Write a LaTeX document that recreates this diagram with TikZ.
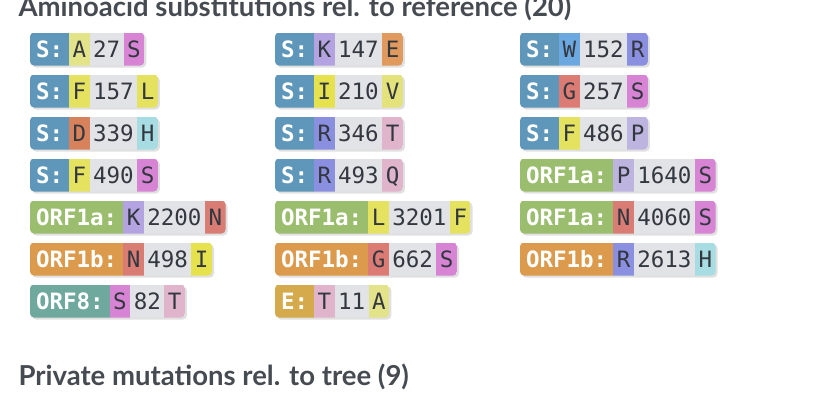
\documentclass[tikz,border=0pt]{standalone}
\usepackage{fontspec}
\setmainfont{Lato}
\setmonofont{DejaVu Sans Mono}
\usetikzlibrary{backgrounds}
\definecolor{gS}{HTML}{5E97B9}\definecolor{gORFa}{HTML}{9BBE6E}\definecolor{gORFb}{HTML}{DB9A4C}
\definecolor{gORFe}{HTML}{6FA89D}\definecolor{gE}{HTML}{D4AA4C}
\definecolor{aA}{HTML}{E3E38A}\definecolor{aS}{HTML}{D884D5}\definecolor{aF}{HTML}{E4E25E}
\definecolor{aL}{HTML}{E4E25E}\definecolor{aD}{HTML}{D8825B}\definecolor{aH}{HTML}{A6DCE2}
\definecolor{aK}{HTML}{B3A3E0}\definecolor{aE}{HTML}{E09A5E}\definecolor{aI}{HTML}{E6E24E}
\definecolor{aV}{HTML}{E4E27A}\definecolor{aR}{HTML}{8B8FE0}\definecolor{aT}{HTML}{E0B5CB}
\definecolor{aQ}{HTML}{E0B5CB}\definecolor{aW}{HTML}{6CA8E0}\definecolor{aG}{HTML}{DB7B73}
\definecolor{aP}{HTML}{BDB5E0}\definecolor{aN}{HTML}{D87C74}\definecolor{numbg}{HTML}{E1E3E6}
\definecolor{txt}{HTML}{464B52}\definecolor{dark}{HTML}{333840}
\tikzset{cell/.style={anchor=west,inner ysep=0pt,minimum height=33pt,text depth=0pt,
  font=\ttfamily\fontsize{22.5}{22.5}\selectfont,text=dark,outer sep=0pt},
  gene/.style={cell,inner xsep=6pt,text=white,font=\ttfamily\bfseries\fontsize{22.5}{22.5}\selectfont},
  aa/.style={cell,inner xsep=3.5pt},
  head/.style={anchor=base west,font=\bfseries\fontsize{27.5}{27.5}\selectfont,text=txt}}
% #1 name #2 x #3 y #4 gene color #5 gene #6 ref #7 pos #8 alt
\newcommand\badge[8]{%
  \node[gene] (#1g) at (#2,#3) {#5};
  \node[aa] (#1r) at (#1g.east) {#6};
  \node[aa] (#1n) at (#1r.east) {#7};
  \node[aa] (#1a) at (#1n.east) {#8};
  \begin{scope}[on background layer]
    \fill[black!12,rounded corners=4pt] ([xshift=2pt,yshift=-2pt]#1g.north west) rectangle ([xshift=2pt,yshift=-2pt]#1a.south east);
    \begin{scope}
      \clip[rounded corners=4pt] (#1g.north west) rectangle (#1a.south east);
      \fill[#4] (#1g.north west) rectangle (#1g.south east);
      \fill[a#6] (#1r.north west) rectangle (#1r.south east);
      \fill[numbg] (#1n.north west) rectangle (#1n.south east);
      \fill[a#8] (#1a.north west) rectangle (#1a.south east);
    \end{scope}
  \end{scope}}
\begin{document}
\begin{tikzpicture}[x=1pt,y=-1pt]
\useasboundingbox (0,0) rectangle (820,408);
\node[head] (h1) at (15,16) {Aminoacid substitutions rel. to reference (20)};
\badge{a}{30}{49}{gS}{S:}{A}{27}{S}
\badge{b}{30}{91}{gS}{S:}{F}{157}{L}
\badge{c}{30}{133}{gS}{S:}{D}{339}{H}
\badge{d}{30}{175}{gS}{S:}{F}{490}{S}
\badge{e}{30}{217}{gORFa}{ORF1a:}{K}{2200}{N}
\badge{f}{30}{259}{gORFb}{ORF1b:}{N}{498}{I}
\badge{g}{30}{301}{gORFe}{ORF8:}{S}{82}{T}
\badge{h}{275}{49}{gS}{S:}{K}{147}{E}
\badge{i}{275}{91}{gS}{S:}{I}{210}{V}
\badge{j}{275}{133}{gS}{S:}{R}{346}{T}
\badge{k}{275}{175}{gS}{S:}{R}{493}{Q}
\badge{l}{275}{217}{gORFa}{ORF1a:}{L}{3201}{F}
\badge{m}{275}{259}{gORFb}{ORF1b:}{G}{662}{S}
\badge{n}{275}{301}{gE}{E:}{T}{11}{A}
\badge{o}{520}{49}{gS}{S:}{W}{152}{R}
\badge{p}{520}{91}{gS}{S:}{G}{257}{S}
\badge{q}{520}{133}{gS}{S:}{F}{486}{P}
\badge{r}{520}{175}{gORFa}{ORF1a:}{P}{1640}{S}
\badge{s}{520}{217}{gORFa}{ORF1a:}{N}{4060}{S}
\badge{t}{520}{259}{gORFb}{ORF1b:}{R}{2613}{H}
\node[head] (h2) at (15,385) {Private mutations rel. to tree (9)};
\end{tikzpicture}
\end{document}
